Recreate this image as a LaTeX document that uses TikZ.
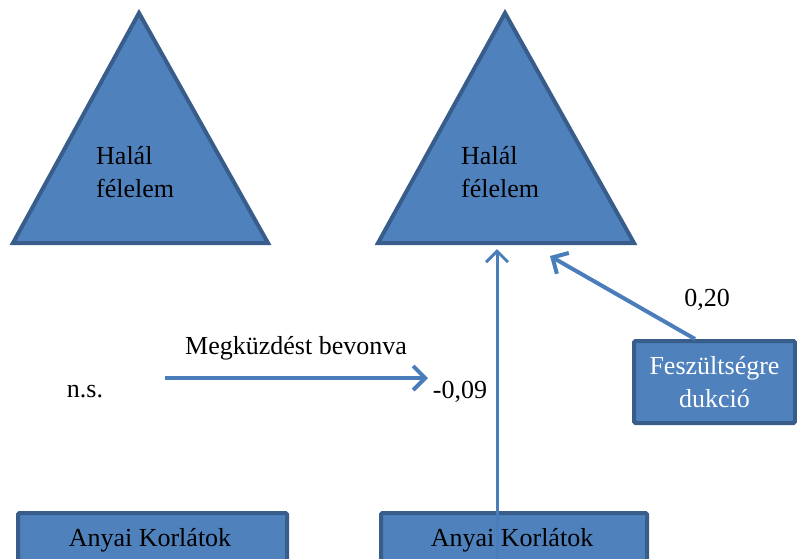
\documentclass[tikz,border=0pt]{standalone}
\usepackage{fontspec}
\setmainfont{Liberation Serif}
\usetikzlibrary{arrows.meta}
\definecolor{boxfill}{HTML}{4F81BD}
\definecolor{boxedge}{HTML}{385D8A}
\definecolor{arrowblue}{HTML}{4A7EBB}
\tikzset{
  x=1pt, y=-1pt,
  tri/.style={fill=boxfill, draw=boxedge, line width=4pt, line join=miter},
  panel/.style={fill=boxfill, draw=boxedge, line width=4pt, rounded corners=1.5pt},
  lbl/.style={font=\fontsize{26}{33}\selectfont, text=black, inner sep=0pt},
  paneltext/.style={font=\fontsize{26}{33}\selectfont, align=center, inner sep=0pt},
  link/.style={draw=arrowblue, line width=4pt, -{Straight Barb[length=12pt,width=24pt,line width=4pt]}},
  thinlink/.style={draw=arrowblue, line width=3pt, -{Straight Barb[length=11pt,width=22pt,line width=3pt]}}
}
\begin{document}
\begin{tikzpicture}
\useasboundingbox (0,0) rectangle (797,558);
\clip (0,0) rectangle (797,558);

% left pyramid
\coordinate (t1a) at (139,13);
\coordinate (t1l) at (13,243);
\coordinate (t1r) at (268,243);
\path[tri] (t1a) -- (t1l) -- (t1r) -- cycle;
\node[lbl, align=left, anchor=west] (t1txt) at (96,172) {Halál\\félelem};

% right pyramid
\coordinate (t2a) at (505,13);
\coordinate (t2l) at (378,243);
\coordinate (t2r) at (634,243);
\path[tri] (t2a) -- (t2l) -- (t2r) -- cycle;
\node[lbl, align=left, anchor=west] (t2txt) at (461,172) {Halál\\félelem};
\coordinate (t2base) at (497,249);
\coordinate (t2side) at (550,256);

% stress-induction panel
\node[panel, minimum width=161pt, minimum height=82pt, anchor=north west, inner sep=0pt] (fesz) at (632,339) {};
\node[paneltext, text=white] (fesztxt) at (fesz.center) {Feszültségre\\dukció};

% bottom panels
\node[panel, minimum width=269pt, minimum height=80pt, anchor=north west, inner sep=0pt] (b1) at (16,511) {};
\node[lbl] (b1txt) at (150,540) {Anyai Korlátok};
\node[panel, minimum width=266pt, minimum height=80pt, anchor=north west, inner sep=0pt] (b2) at (379,511) {};
\node[lbl] (b2txt) at (512,540) {Anyai Korlátok};

% path labels
\node[lbl] (cope) at (296,348) {Megküzdést bevonva};
\node[lbl] (ns) at (85,392) {n.s.};
\node[lbl] (coef1) at (460,392) {-0,09};
\node[lbl] (coef2) at (707,300) {0,20};
\coordinate (hstart) at (165,378);
\coordinate (hend) at (428,378);

% connectors
\draw[link] (hstart) -- (hend);
\draw[link] (fesz.north -| 695,0) -- (t2side);
\draw[thinlink] (b2.south -| t2base) -- (t2base);
\end{tikzpicture}
\end{document}
